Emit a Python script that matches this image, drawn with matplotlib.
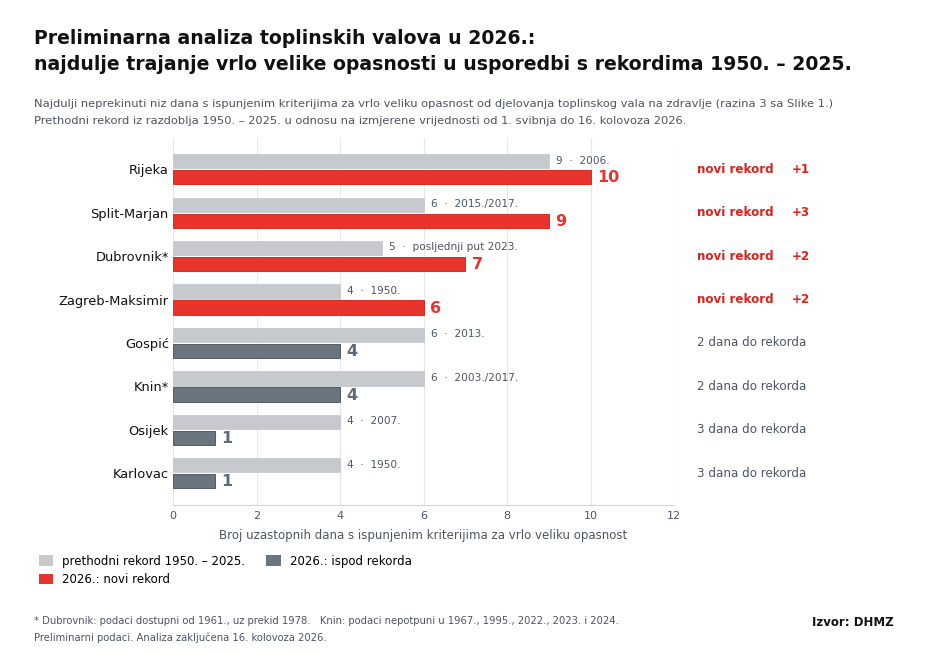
import matplotlib
matplotlib.use("Agg")
import matplotlib.pyplot as plt
from matplotlib.patches import Patch
from matplotlib.transforms import blended_transform_factory

stations = ["Rijeka", "Split-Marjan", "Dubrovnik*", "Zagreb-Maksimir",
            "Gospić", "Knin*", "Osijek", "Karlovac"]
record = [9, 6, 5, 4, 6, 6, 4, 4]
record_year = ["2006.", "2015./2017.", "posljednji put 2023.", "1950.",
               "2013.", "2003./2017.", "2007.", "1950."]
days_2026 = [10, 9, 7, 6, 4, 4, 1, 1]

GRAY = "#c6cace"
RED = "#e8342c"
DARK = "#6b7580"
TXT = "#4b5563"

fig = plt.figure(figsize=(9.36, 6.53), dpi=100)
ax = fig.add_axes([173/936, 1-505/653, (674-173)/936, (505-138)/653])
ax.set_xlim(0, 12)
ax.set_ylim(7.73, -0.72)
side = blended_transform_factory(fig.transFigure, ax.transData)

n = len(stations)
for i in range(n):
    new = days_2026[i] > record[i]
    ax.barh(i - 0.185, record[i], height=0.33, color=GRAY, edgecolor="#c2c6cb", lw=0.5, zorder=3)
    col = RED if new else DARK
    ax.barh(i + 0.185, days_2026[i], height=0.33, color=col,
            edgecolor="#d92a22" if new else "#525c66", lw=0.7, zorder=3)
    ax.text(record[i] + 0.17, i - 0.2, f"{record[i]}  ·  {record_year[i]}",
            va="center", ha="left", fontsize=7.6, color=TXT)
    ax.text(days_2026[i] + 0.15, i + 0.2, str(days_2026[i]), va="center", ha="left",
            fontsize=11.5, fontweight="bold", color=RED if new else "#5f6a76")
    if new:
        ax.text(697/936, i, "novi rekord", fontsize=8.6, fontweight="bold",
                color="#e0201b", va="center", transform=side)
        ax.text(792/936, i, f"+{days_2026[i] - record[i]}", fontsize=8.6,
                fontweight="bold", color="#e0201b", va="center", transform=side)
    else:
        ax.text(697/936, i, f"{record[i] - days_2026[i]} dana do rekorda",
                fontsize=8.6, color=TXT, va="center", transform=side)

ax.set_yticks(range(n))
ax.set_yticklabels(stations, fontsize=9.4, color="#111111")
ax.set_xticks(range(0, 13, 2))
ax.tick_params(axis="x", labelsize=8, colors=TXT, length=0, pad=4)
ax.tick_params(axis="y", length=0, pad=3)
ax.grid(axis="x", color="#e5e7eb", lw=0.8, zorder=0)
for s in ["top", "right", "left"]:
    ax.spines[s].set_visible(False)
ax.spines["bottom"].set_color("#d1d5db")
ax.set_xlabel("Broj uzastopnih dana s ispunjenim kriterijima za vrlo veliku opasnost",
              fontsize=8.5, color=TXT, labelpad=6)

fig.text(34/936, 1-38/653, "Preliminarna analiza toplinskih valova u 2026.:",
         fontsize=13.6, fontweight="bold", va="center", color="#111111")
fig.text(34/936, 1-65/653,
         "najdulje trajanje vrlo velike opasnosti u usporedbi s rekordima 1950. – 2025.",
         fontsize=13.6, fontweight="bold", va="center", color="#111111")
fig.text(34/936, 1-104/653,
         "Najdulji neprekinuti niz dana s ispunjenim kriterijima za vrlo veliku opasnost od djelovanja toplinskog vala na zdravlje (razina 3 sa Slike 1.)",
         fontsize=8.25, color=TXT, va="center")
fig.text(34/936, 1-121/653,
         "Prethodni rekord iz razdoblja 1950. – 2025. u odnosu na izmjerene vrijednosti od 1. svibnja do 16. kolovoza 2026.",
         fontsize=8.25, color=TXT, va="center")

handles = [Patch(facecolor=GRAY, label="prethodni rekord 1950. – 2025."),
           Patch(facecolor=RED, label="2026.: novi rekord"),
           Patch(facecolor=DARK, label="2026.: ispod rekorda")]
fig.legend(handles=handles, loc="upper left", bbox_to_anchor=(28/936, 1-544/653),
           ncol=2, frameon=False, fontsize=8.5, handlelength=1.2, handleheight=1.0,
           columnspacing=1.8, labelspacing=0.45, handletextpad=0.8)

fig.text(34/936, 1-621/653,
         "* Dubrovnik: podaci dostupni od 1961., uz prekid 1978.   Knin: podaci nepotpuni u 1967., 1995., 2022., 2023. i 2024.",
         fontsize=7.2, color=TXT, va="center")
fig.text(34/936, 1-638/653, "Preliminarni podaci. Analiza zaključena 16. kolovoza 2026.",
         fontsize=7.2, color=TXT, va="center")
fig.text(894/936, 1-622/653, "Izvor: DHMZ", fontsize=8.5, fontweight="bold",
         ha="right", va="center", color="#111111")

fig.savefig("out.png", dpi=100)
